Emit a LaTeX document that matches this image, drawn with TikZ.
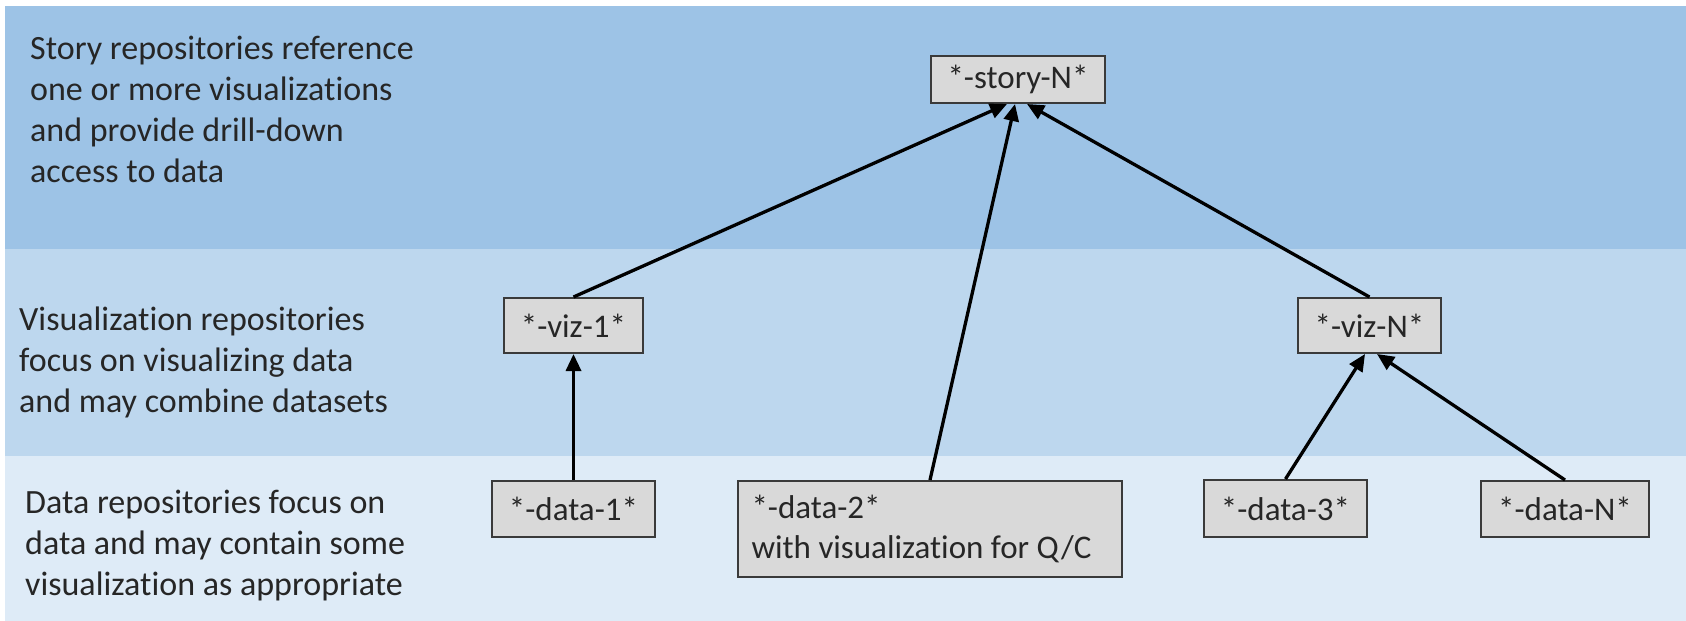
\documentclass[tikz,border=0pt]{standalone}
\usepackage{fontspec}
\setmainfont{Carlito}[Ligatures=NoCommon]
\usetikzlibrary{arrows.meta}
\definecolor{bandA}{HTML}{9DC3E6}
\definecolor{bandB}{HTML}{BDD7EE}
\definecolor{bandC}{HTML}{DEEBF7}
\definecolor{boxfill}{HTML}{D9D9D9}
\definecolor{boxline}{HTML}{3A3A3A}
\definecolor{txt}{HTML}{262626}
\tikzset{
  repo/.style={draw=boxline, fill=boxfill, line width=2bp, inner sep=0pt,
    font=\fontsize{33bp}{40bp}\selectfont, text=txt},
  lbl/.style={anchor=base west, align=left, inner sep=0pt,
    font=\fontsize{34bp}{41bp}\selectfont, text=txt},
  link/.style={line width=3.3bp, black, -{Triangle[length=17bp,width=15bp]}}
}
\begin{document}
\begin{tikzpicture}[x=1bp,y=-1bp]
\useasboundingbox (0,0) rectangle (1686,621);
\fill[white] (0,0) rectangle (1686,621);
\fill[bandA] (5,6) rectangle (1686,249);
\fill[bandB] (5,249) rectangle (1686,456);
\fill[bandC] (5,456) rectangle (1686,621);

\node[lbl] (ls) at (30,183) {Story repositories reference\\one or more visualizations\\and provide drill-down\\access to data};
\node[lbl] (lv) at (19,412) {Visualization repositories\\focus on visualizing data\\and may combine datasets};
\node[lbl] (ld) at (25,595) {Data repositories focus on\\data and may contain some\\visualization as appropriate};

\node[repo, minimum width=174bp, minimum height=47bp] (s) at (1018,79.5) {*-story-N*};
\node[repo, minimum width=139bp, minimum height=55bp] (v1) at (573.5,325.5) {*-viz-1*};
\node[repo, minimum width=143bp, minimum height=55bp] (vN) at (1369.5,325.5) {*-viz-N*};
\node[repo, minimum width=163bp, minimum height=56bp] (d1) at (573.5,509) {*-data-1*};
\node[repo, minimum width=384bp, minimum height=96bp, align=left] (d2) at (930,529) {*-data-2*\\with visualization for Q/C\kern17bp};
\node[repo, minimum width=163bp, minimum height=57bp] (d3) at (1285.5,508.5) {*-data-3*};
\node[repo, minimum width=168bp, minimum height=56bp] (dN) at (1565,509) {*-data-N*};

\draw[link] (v1.north) -- ([xshift=-11bp]s.south);
\draw[link] (d2.north) -- ([xshift=-3bp]s.south);
\draw[link] (vN.north) -- ([xshift=9bp]s.south);
\draw[link] (d1.north) -- (v1.south);
\draw[link] (d3.north) -- ([xshift=-4.5bp]vN.south);
\draw[link] (dN.north) -- ([xshift=7.5bp]vN.south);
\end{tikzpicture}
\end{document}
